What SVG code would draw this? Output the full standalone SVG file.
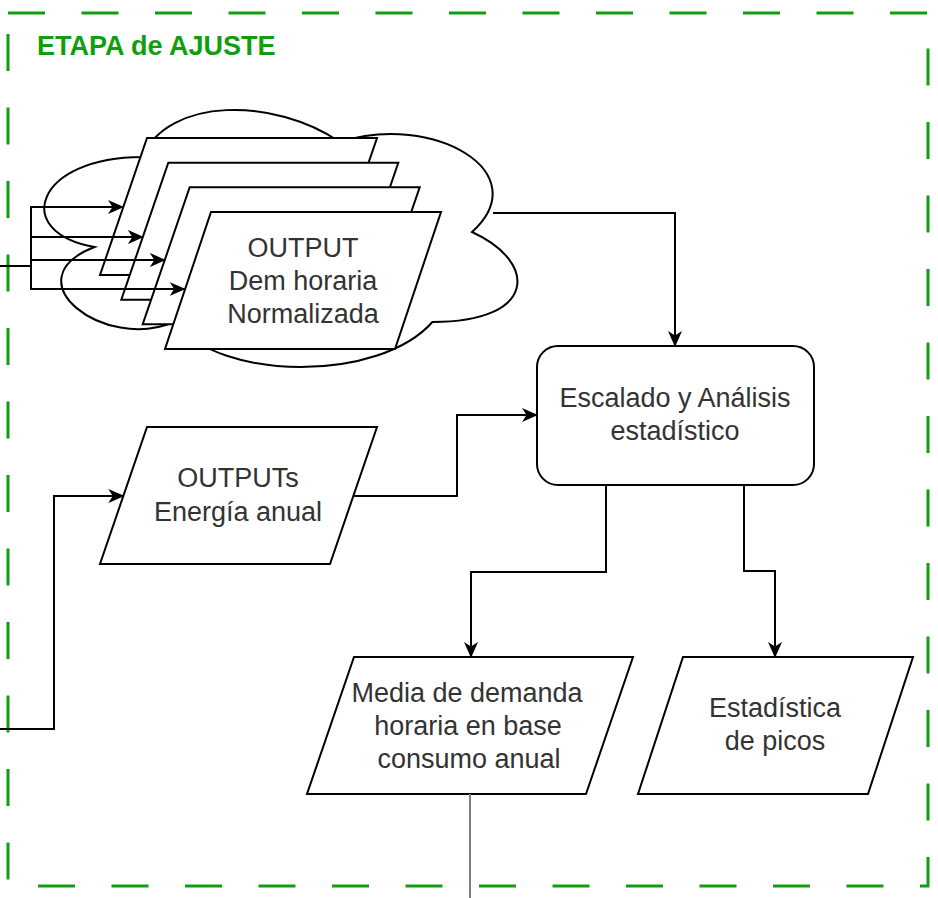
<svg xmlns="http://www.w3.org/2000/svg" width="938" height="898" viewBox="0 0 938 898">
<style>
.shape{fill:#fff;stroke:#000;stroke-width:2;stroke-linejoin:miter}
.lbl{font-family:"Liberation Sans",Arial,sans-serif;font-size:27px;fill:#333;text-anchor:middle}
.edge{fill:none;stroke:#000;stroke-width:2}
</style>
<defs>
<marker id="arr" viewBox="0 0 16 16" refX="15" refY="8" markerWidth="16" markerHeight="16" orient="auto" markerUnits="userSpaceOnUse">
<path d="M0,1 L16,8 L0,15 L4.5,8 z" fill="#000"/>
</marker>
</defs>
<rect width="938" height="898" fill="#fff"/>
<g id="etapa-ajuste">
<rect x="8" y="13" width="920" height="873" fill="none" stroke="#109e10" stroke-width="3" stroke-dasharray="37 36.5"/>
<text x="37" y="55" font-family="'Liberation Sans',Arial,sans-serif" font-size="27" font-weight="bold" fill="#109e10">ETAPA de AJUSTE</text>
</g>
<g id="cloud">
<path class="shape" d="M142,157 C36.4,157 10,232 94.5,247 C10,280 105,352 173.7,322 C221.2,382 379.6,382 432.4,322 C538,322 538,262 472,232 C538,172 432.4,112 340,142 C274,97 168.4,97 142,157 Z"/>
</g>
<g id="output-stack">
<polygon class="shape" points="147,138 377,138 330,275 100,275"/>
<polygon class="shape" points="168.3,162.7 398.3,162.7 351.3,299.7 121.3,299.7"/>
<polygon class="shape" points="189.7,187.3 419.7,187.3 372.7,324.3 142.7,324.3"/>
<polygon class="shape" points="211,212 441,212 395,349 165,349"/>
<text class="lbl" x="303" y="257">OUTPUT</text>
<text class="lbl" x="303" y="290">Dem horaria</text>
<text class="lbl" x="303" y="323">Normalizada</text>
</g>
<g id="outputs-energia">
<polygon class="shape" points="147,427 377,427 330,564 100,564"/>
<text class="lbl" x="238" y="487">OUTPUTs</text>
<text class="lbl" x="238" y="521">Energía anual</text>
</g>
<g id="escalado">
<rect class="shape" x="537" y="346" width="277" height="139" rx="21" ry="21"/>
<text class="lbl" x="675" y="407">Escalado y Análisis</text>
<text class="lbl" x="675" y="440">estadístico</text>
</g>
<g id="media">
<polygon class="shape" points="354,657 633,657 586,794 307,794"/>
<text class="lbl" x="467" y="702">Media de demanda</text>
<text class="lbl" x="468" y="735">horaria en base</text>
<text class="lbl" x="469" y="768">consumo anual</text>
</g>
<g id="picos">
<polygon class="shape" points="683,657 913,657 868,794 638,794"/>
<text class="lbl" x="775" y="717">Estadística</text>
<text class="lbl" x="775" y="750">de picos</text>
</g>
<g id="connectors">
<path class="edge" d="M0,266 H31 V207 H123" marker-end="url(#arr)"/>
<path class="edge" d="M0,266 H31 V237 H142.8" marker-end="url(#arr)"/>
<path class="edge" d="M0,266 H31 V260 H164.8" marker-end="url(#arr)"/>
<path class="edge" d="M0,266 H31 V289 H184.6" marker-end="url(#arr)"/>
<path class="edge" d="M493,213 H675 V346" marker-end="url(#arr)"/>
<path class="edge" d="M353,496 H457 V415 H537" marker-end="url(#arr)"/>
<path class="edge" d="M0,729 H54 V496 H123.3" marker-end="url(#arr)"/>
<path class="edge" d="M606,485 V572 H471 V657" marker-end="url(#arr)"/>
<path class="edge" d="M744,485 V571 H775 V657" marker-end="url(#arr)"/>
<path class="edge" d="M470,794 V898" style="stroke:#808080"/>
</g>
</svg>
